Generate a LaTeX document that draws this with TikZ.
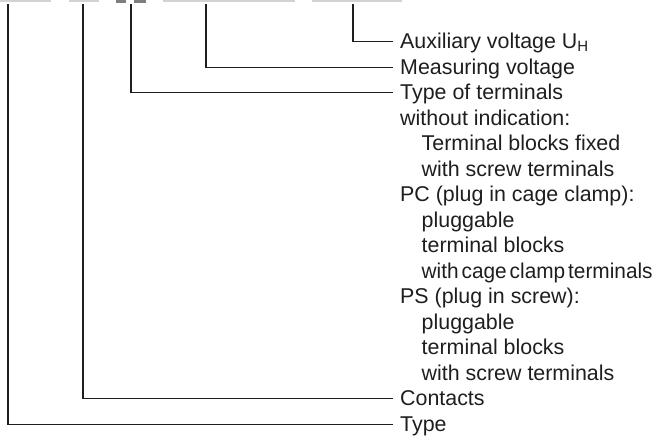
\documentclass[tikz,border=0pt]{standalone}
\usepackage{fontspec}
\setmainfont{Liberation Sans}
\usepackage{graphicx}
\definecolor{inkc}{HTML}{1E1E1E}
\definecolor{barlight}{HTML}{D2D2D2}
\definecolor{bardark}{HTML}{7E7E7E}
\begin{document}
\begin{tikzpicture}[x=1pt,y=-1pt,
  lbl/.style={anchor=base west,inner sep=0pt,text=inkc,font=\fontsize{21.4}{25.5}\selectfont},
  conn/.style={draw=inkc,line width=1.1pt},
  barl/.style={fill=barlight,draw=none},
  bard/.style={fill=bardark,draw=none}]
\useasboundingbox (0,0) rectangle (654,436);
% top bars
\fill[barl] (0,0) rectangle (51,1.6);
\fill[barl] (69,0) rectangle (99,1.6);
\fill[bard] (116,0) rectangle (126,2.6);
\fill[bard] (134,0) rectangle (146,2.6);
\fill[barl] (163,0) rectangle (295,1.6);
\fill[barl] (312,0) rectangle (402,1.6);
% top ends of connectors
\coordinate (tType) at (8,4);
\coordinate (tCont) at (83,4);
\coordinate (tTerm) at (131,4);
\coordinate (tMeas) at (206,4);
\coordinate (tAux) at (353,4);
% labels
\node[lbl] (l0) at (400,48.7) {Auxiliary voltage U\textsubscript{H}};
\node[lbl] (l1) at (400,74.2) {Measuring voltage};
\node[lbl] (l2) at (400,99.7) {Type of terminals};
\node[lbl] (l3) at (400,125.2) {without indication:};
\node[lbl] (l4) at (421.5,150.7) {Terminal blocks fixed};
\node[lbl] (l5) at (421.5,176.2) {with screw terminals};
\node[lbl] (l6) at (400,201.7) {PC (plug in cage clamp):};
\node[lbl] (l7) at (421.5,227.2) {pluggable};
\node[lbl] (l8) at (421.5,252.7) {terminal blocks};
\node[lbl] (l9) at (421.5,278.2) {\resizebox{231pt}{\height}{with\hspace{3pt}cage\hspace{3pt}clamp\hspace{3pt}terminals}};
\node[lbl] (l10) at (400,303.7) {PS (plug in screw):};
\node[lbl] (l11) at (421.5,329.2) {pluggable};
\node[lbl] (l12) at (421.5,354.7) {terminal blocks};
\node[lbl] (l13) at (421.5,380.2) {with screw terminals};
\node[lbl] (l14) at (400,405.7) {Contacts};
\node[lbl] (l15) at (400,431.2) {Type};
% connectors
\draw[conn] (tAux) |- ([xshift=-7pt,yshift=7pt]l0.base west);
\draw[conn] (tMeas) |- ([xshift=-7pt,yshift=7pt]l1.base west);
\draw[conn] (tTerm) |- ([xshift=-7pt,yshift=7pt]l2.base west);
\draw[conn] (tCont) |- ([xshift=-7pt,yshift=7pt]l14.base west);
\draw[conn] (tType) |- ([xshift=-7pt,yshift=7pt]l15.base west);
\end{tikzpicture}
\end{document}
